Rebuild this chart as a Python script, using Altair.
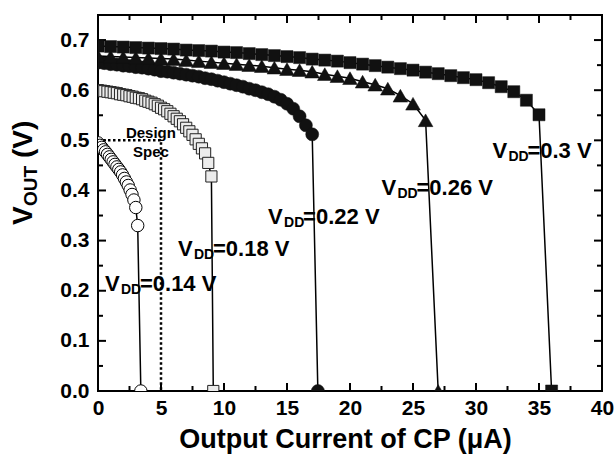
import altair as alt
import pandas as pd

FONT = "Liberation Sans"
W, H = 504, 376

# ---------------- data ----------------
x_014 = [0.00, 0.15, 0.30, 0.45, 0.60, 0.75, 0.90, 1.05, 1.20, 1.35, 1.50, 1.65,
         1.80, 1.95, 2.10, 2.25, 2.40, 2.55, 2.70, 2.85, 3.00, 3.15, 3.40]
y_014 = [0.495, 0.490, 0.486, 0.481, 0.477, 0.472, 0.467, 0.462, 0.457, 0.452, 0.447, 0.442,
         0.437, 0.431, 0.424, 0.417, 0.410, 0.401, 0.392, 0.381, 0.366, 0.330, 0.000]

x_018 = [0.00, 0.25, 0.50, 0.75, 1.00, 1.25, 1.50, 1.75, 2.00, 2.25, 2.50, 2.75,
         3.00, 3.25, 3.50, 3.75, 4.00, 4.25, 4.50, 4.75, 5.00, 5.25, 5.50, 5.75,
         6.00, 6.25, 6.50, 6.75, 7.00, 7.25, 7.50, 7.75, 8.00, 8.25, 8.50, 8.75,
         9.00, 9.15]
y_018 = [0.600, 0.599, 0.598, 0.597, 0.596, 0.595, 0.594, 0.592, 0.591, 0.590, 0.588, 0.587,
         0.585, 0.584, 0.582, 0.579, 0.577, 0.575, 0.572, 0.569, 0.565, 0.562, 0.558, 0.553,
         0.548, 0.543, 0.538, 0.532, 0.525, 0.518, 0.511, 0.502, 0.493, 0.484, 0.474, 0.455,
         0.428, 0.000]

x_022 = [0.0, 0.5, 1.0, 1.5, 2.0, 2.5, 3.0, 3.5, 4.0, 4.5, 5.0, 5.5, 6.0, 6.5, 7.0, 7.5,
         8.0, 8.5, 9.0, 9.5, 10.0, 10.5, 11.0, 11.5, 12.0, 12.5, 13.0, 13.5, 14.0, 14.5,
         15.0, 15.5, 16.0, 16.5, 17.0, 17.45]
y_022 = [0.655, 0.654, 0.652, 0.651, 0.649, 0.648, 0.646, 0.645, 0.643, 0.641, 0.638, 0.637,
         0.635, 0.633, 0.631, 0.629, 0.627, 0.624, 0.622, 0.619, 0.616, 0.613, 0.610, 0.607,
         0.603, 0.600, 0.596, 0.592, 0.587, 0.581, 0.573, 0.563, 0.548, 0.530, 0.512, 0.000]

x_026 = [0, 1, 2, 3, 4, 5, 6, 7, 8, 9, 10, 11, 12, 13, 14, 15, 16, 17, 18, 19, 20,
         21, 22, 23, 24, 25, 26, 27]
y_026 = [0.668, 0.667, 0.666, 0.665, 0.664, 0.663, 0.662, 0.660, 0.658, 0.656, 0.654,
         0.652, 0.650, 0.648, 0.645, 0.642, 0.640, 0.637, 0.632, 0.628, 0.624,
         0.617, 0.611, 0.603, 0.589, 0.573, 0.540, 0.000]

x_030 = [0, 1, 2, 3, 4, 5, 6, 7, 8, 9, 10, 11, 12, 13, 14, 15, 16, 17, 18, 19, 20,
         21, 22, 23, 24, 25, 26, 27, 28, 29, 30, 31, 32, 33, 34, 35, 36]
y_030 = [0.688, 0.687, 0.686, 0.685, 0.684, 0.683, 0.682, 0.680, 0.679, 0.678, 0.676,
         0.675, 0.673, 0.671, 0.669, 0.667, 0.665, 0.662, 0.660, 0.658, 0.655,
         0.652, 0.649, 0.646, 0.643, 0.640, 0.636, 0.633, 0.629, 0.625, 0.621,
         0.615, 0.607, 0.597, 0.580, 0.551, 0.000]

spec_x = [0, 5, 5]
spec_y = [0.5, 0.5, 0.0]

label_vdd = ["=0.14 V", "=0.18 V", "=0.22 V", "=0.26 V", "=0.3 V"]
label_x = [0.55, 6.35, 13.5, 22.5, 31.3]
label_y = [0.213, 0.283, 0.348, 0.404, 0.478]

x_major = [0, 5, 10, 15, 20, 25, 30, 35, 40]
x_minor = [2.5, 7.5, 12.5, 17.5, 22.5, 27.5, 32.5, 37.5]
y_major = [0.0, 0.1, 0.2, 0.3, 0.4, 0.5, 0.6, 0.7]
y_minor = [0.05, 0.15, 0.25, 0.35, 0.45, 0.55, 0.65]

# ---------------- scales / axes ----------------
xs = alt.Scale(domain=[0, 40], nice=False, zero=False)
ys = alt.Scale(domain=[0, 0.75], nice=False, zero=False)

X_TITLE = "Output Current of CP (\u03bcA)"
x_axis = alt.Axis(values=x_major, format="d", ticks=False, domain=False, grid=False,
                  labelFont=FONT, labelFontWeight="bold", labelFontSize=21, labelColor="black",
                  labelPadding=6, labelFlush=False,
                  title=X_TITLE, titleFont=FONT, titleFontWeight="bold",
                  titleFontSize=27, titleColor="black", titlePadding=8, titleX=247)
y_axis = alt.Axis(values=y_major, format=".1f", ticks=False, domain=False, grid=False,
                  labelFont=FONT, labelFontWeight="bold", labelFontSize=21, labelColor="black",
                  labelPadding=9, labelFlush=False, title="")


def X(field="x"):
    return alt.X(f"{field}:Q", scale=xs, axis=x_axis, title=X_TITLE)


def Y(field="y"):
    return alt.Y(f"{field}:Q", scale=ys, axis=y_axis, title="")


layers = []

# ---------------- ticks (inward, mirrored) ----------------
xt_maj = pd.DataFrame({"v": x_major})
xt_min = pd.DataFrame({"v": x_minor})
yt_maj = pd.DataFrame({"v": y_major})
yt_min = pd.DataFrame({"v": y_minor})

for d, ln in ((xt_maj, 8), (xt_min, 5)):
    layers.append(alt.Chart(d).mark_rule(color="black", strokeWidth=2).encode(
        x=X("v"), y=alt.value(H), y2=alt.value(H - ln)))
    layers.append(alt.Chart(d).mark_rule(color="black", strokeWidth=2).encode(
        x=X("v"), y=alt.value(0), y2=alt.value(ln)))
for d, ln in ((yt_maj, 8), (yt_min, 5)):
    layers.append(alt.Chart(d).mark_rule(color="black", strokeWidth=2).encode(
        y=Y("v"), x=alt.value(0), x2=alt.value(ln)))
    layers.append(alt.Chart(d).mark_rule(color="black", strokeWidth=2).encode(
        y=Y("v"), x=alt.value(W), x2=alt.value(W - ln)))

# ---------------- design spec ----------------
spec = pd.DataFrame({"x": spec_x, "y": spec_y, "o": [0, 1, 2]})
layers.append(alt.Chart(spec).mark_line(color="black", strokeWidth=2.5, strokeDash=[2.5, 2.5],
                                        strokeCap="butt").encode(
    x=X(), y=Y(), order="o:O"))

# ---------------- series ----------------
series = [
    (x_014, y_014, dict(shape="circle", filled=True, fill="white", stroke="black",
                        strokeWidth=1, size=155)),
    (x_018, y_018, dict(shape="square", filled=True, fill="#ececec", stroke="#222222",
                        strokeWidth=1, size=125)),
    (x_022, y_022, dict(shape="circle", filled=True, fill="#111111", stroke="#111111",
                        strokeWidth=0.5, size=170)),
    (x_026, y_026, dict(shape="triangle-up", filled=True, fill="#111111", stroke="#111111",
                        strokeWidth=0.5, size=215)),
    (x_030, y_030, dict(shape="square", filled=True, fill="#111111", stroke="#111111",
                        strokeWidth=0.5, size=145)),
]
for xv, yv, style in series:
    df = pd.DataFrame({"x": xv, "y": yv, "o": list(range(len(xv)))})
    b = alt.Chart(df)
    layers.append(b.mark_line(color="black", strokeWidth=1.5, clip=True).encode(
        x=X(), y=Y(), order="o:O"))
    layers.append(b.mark_point(clip=True, opacity=1, **style).encode(x=X(), y=Y()))

# ---------------- annotations ----------------
ds = pd.DataFrame({"x": [4.2, 4.2], "y": [0.514, 0.476], "t": ["Design", "Spec"]})
layers.append(alt.Chart(ds).mark_text(font=FONT, fontWeight="bold", fontSize=15,
                                      color="black", align="center", baseline="middle").encode(
    x=X(), y=Y(), text="t:N"))

lab = pd.DataFrame({"x": label_x, "y": label_y, "t": label_vdd})
lb = alt.Chart(lab)
layers.append(lb.mark_text(font=FONT, fontWeight="bold", fontSize=22, color="black",
                           align="left", baseline="middle", text="V").encode(x=X(), y=Y()))
layers.append(lb.mark_text(font=FONT, fontWeight="bold", fontSize=14, color="black",
                           align="left", baseline="middle", text="DD", dx=16, dy=6).encode(
    x=X(), y=Y()))
layers.append(lb.mark_text(font=FONT, fontWeight="bold", fontSize=22, color="black",
                           align="left", baseline="middle", dx=35).encode(
    x=X(), y=Y(), text="t:N"))

# ---------------- y title with subscript ----------------
ty = pd.DataFrame({"k": [0]})
tb = alt.Chart(ty)
YT_X, YT_Y = -74, 210
layers.append(tb.mark_text(font=FONT, fontWeight="bold", fontSize=28, color="black",
                           align="left", baseline="middle", angle=270, text="V").encode(
    x=alt.value(YT_X), y=alt.value(YT_Y)))
layers.append(tb.mark_text(font=FONT, fontWeight="bold", fontSize=19, color="black",
                           align="left", baseline="middle", angle=270, text="OUT",
                           dx=19, dy=7).encode(x=alt.value(YT_X), y=alt.value(YT_Y)))
layers.append(tb.mark_text(font=FONT, fontWeight="bold", fontSize=28, color="black",
                           align="left", baseline="middle", angle=270, text="(V)",
                           dx=67).encode(x=alt.value(YT_X), y=alt.value(YT_Y)))

chart = alt.layer(*layers).properties(
    width=W, height=H,
    autosize=alt.AutoSizeParams(type="none"),
    padding={"left": 98, "top": 15, "right": 13, "bottom": 72},
    background="white",
).configure_view(stroke="black", strokeWidth=2)

chart.save("out.html", embed_options={"renderer": "svg", "actions": False})
